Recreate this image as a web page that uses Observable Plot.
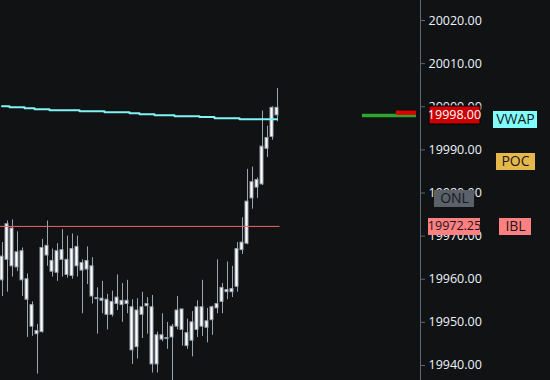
<!DOCTYPE html>
<html><head><meta charset="utf-8">
<script src="https://cdn.jsdelivr.net/npm/d3@7"></script>
<script src="https://cdn.jsdelivr.net/npm/@observablehq/plot@0.6"></script>
<style>html,body{margin:0;padding:0;background:#101214;overflow:hidden}</style>
</head><body><div id="chart"></div>
<script>
// ---- data (price bars, oldest first) ----
const openP  = [19959.75,19964.5,19971.75,19962.75,19966.5,19960.0,19954.0,19948.0,19947.75,19967.75,19964.25,19961.5,19966.75,19964.5,19960.75,19967.5,19963.75,19962.25,19963.0,19955.5,19955.5,19955.25,19951.75,19954.25,19955.0,19954.25,19953.5,19944.25,19951.75,19953.75,19953.5,19940.25,19947.0,19946.25,19946.5,19949.0,19953.0,19947.5,19945.75,19948.25,19953.5,19948.75,19950.5,19953.25,19954.75,19957.5,19957.0,19958.25,19966.75,19968.25,19978.75,19983.0,19982.0,19990.25,19993.0,19999.75];
const highP  = [19968.5,19973.5,19973.75,19971.0,19967.25,19961.25,19954.75,19949.5,19969.25,19973.5,19967.0,19968.25,19971.5,19970.0,19970.5,19970.0,19964.5,19967.5,19965.0,19958.0,19959.5,19956.5,19957.25,19961.0,19959.0,19959.75,19955.25,19955.5,19957.0,19955.75,19956.25,19947.75,19952.0,19950.0,19949.5,19956.0,19953.0,19950.75,19952.5,19955.0,19959.75,19953.25,19953.75,19964.5,19959.0,19964.0,19963.0,19968.5,19974.25,19985.5,19986.0,19983.5,19999.0,19995.5,20000.0,20004.25];
const lowP   = [19956.0,19957.0,19960.5,19961.75,19956.0,19946.5,19946.75,19938.0,19947.5,19963.0,19960.5,19959.5,19960.5,19960.25,19960.0,19960.5,19952.0,19958.75,19954.25,19947.25,19952.0,19948.25,19951.25,19952.75,19950.0,19952.0,19940.25,19941.5,19946.25,19947.25,19938.25,19938.25,19945.5,19943.75,19935.5,19948.25,19944.5,19943.75,19942.0,19946.5,19946.75,19945.25,19947.0,19952.0,19952.0,19955.25,19955.75,19957.0,19965.75,19968.0,19976.25,19978.75,19981.75,19988.25,19992.25,19996.5];
const closeP = [19965.25,19972.75,19963.0,19966.25,19959.75,19955.25,19949.0,19947.25,19967.25,19965.5,19961.75,19966.5,19964.5,19961.0,19967.0,19963.0,19962.0,19964.25,19956.0,19955.5,19955.0,19951.75,19954.75,19955.75,19954.0,19955.0,19943.5,19952.75,19953.5,19954.25,19940.25,19947.0,19946.0,19946.25,19949.0,19952.75,19948.25,19944.5,19950.0,19953.5,19949.0,19950.25,19953.5,19954.25,19958.0,19957.0,19957.75,19967.0,19968.5,19978.0,19982.5,19981.25,19990.75,19992.75,19999.75,19998.0];
const vwapP  = [20000.1,20000.1,19999.9,19999.9,19999.9,19999.65,19999.65,19999.45,19999.45,19999.45,19999.2,19999.2,19999.2,19999.2,19999.2,19999.2,19998.95,19998.95,19998.95,19998.95,19998.95,19998.75,19998.75,19998.75,19998.75,19998.75,19998.5,19998.5,19998.25,19998.25,19998.25,19998.05,19998.05,19998.05,19998.05,19997.8,19997.8,19997.8,19997.8,19997.8,19997.6,19997.6,19997.6,19997.35,19997.35,19997.35,19997.35,19997.35,19997.1,19997.1,19997.1,19997.1,19997.1,19997.1,19997.1,19997.1];

const iblLevel = 19972.25;
const yTicks = [19940,19950,19960,19970,19980,19990,20000,20010,20020];

// bid/ask markers at the last price (bar-slot units)
const bidLevel = [19998.0];  const bidFrom = [73.1]; const bidTo = [83.9];
const askLow = [19998.0];    const askHigh = [19999.0]; const askFrom = [79.9]; const askTo = [83.9];

// right-side tags
const tagLabels = ["19998.00","19972.25","ONL","VWAP","POC","IBL"];
const tagValues = [19998.0, 19972.25, 19978.75, 19997.15, 19987.25, 19972.25];
const tagColumn = ["inner","inner","inner","outer","outer","outer"];

// styles for the tags (same order)
const tagBg     = ["#cc0000","#ff8080","#5a6169","#80ffff","#e6b84c","#ff8080"];
const tagInk    = ["#ffffff","#16181b","#16181b","#16181b","#16181b","#16181b"];
const tagBorder = ["#000000",null,null,null,null,null];
const tagW      = [51,52,40,44,39,32];
const tagH      = [18,17,17,17,17,17];
const tagSize   = [12.5,12.5,14,14,14,14];
const colDx     = {inner: 34, outer: 95};

const bars = openP.map((o, k) => ({i: k + 1, open: o, high: highP[k], low: lowP[k], close: closeP[k], vwap: vwapP[k]}));
const tags = tagLabels.map((t, k) => ({label: t, value: tagValues[k], col: tagColumn[k], bg: tagBg[k], ink: tagInk[k], border: tagBorder[k], w: tagW[k], h: tagH[k], size: tagSize[k]}));
const bid = bidLevel.map((v, k) => ({y: v, x1: bidFrom[k], x2: bidTo[k]}));
const ask = askLow.map((v, k) => ({y1: v, y2: askHigh[k], x1: askFrom[k], x2: askTo[k]}));

const axisColor = "#5d6672";
const W = 550, H = 380, MR = 130;
const xDomain = [0.7, 84.7];

const chart = Plot.plot({
  width: W, height: H,
  marginLeft: 0, marginRight: MR, marginTop: 0, marginBottom: 0,
  style: {background: "#101214", color: "#eef2f8", fontFamily: "'Open Sans', sans-serif", fontSize: "12px"},
  x: {domain: xDomain, axis: null},
  y: {domain: [19936.52, 20024.64], axis: null},
  marks: [
    Plot.ruleX(bars, {x: "i", y1: "low", y2: "high", stroke: "#9aa4b2", strokeWidth: 1, dx: 0.5}),
    Plot.rect(bars, {
      x1: d => d.i - 0.3, x2: d => d.i + 0.3,
      y1: d => Math.min(d.open, d.close) - (d.open === d.close ? 0.12 : 0),
      y2: d => Math.max(d.open, d.close) + (d.open === d.close ? 0.12 : 0),
      fill: "#ffffff", stroke: "#9aa4b2", strokeWidth: 1
    }),
    Plot.ruleY([iblLevel], {x1: xDomain[0], x2: bars.length + 0.6, stroke: "#f26464", strokeWidth: 1}),
    Plot.line(bars, {x: "i", y: "vwap", curve: "step", stroke: "#7ff4f4", strokeWidth: 2}),
    Plot.ruleY(bid, {y: "y", x1: "x1", x2: "x2", stroke: "#2ea52e", strokeWidth: 3.5}),
    Plot.rect(ask, {y1: "y1", y2: "y2", x1: "x1", x2: "x2", fill: "#e00000"}),
    Plot.ruleX([xDomain[1]], {stroke: axisColor}),
    Plot.axisY({anchor: "right", ticks: yTicks, tickFormat: d => d.toFixed(2), tickSize: 4, tickPadding: 4, stroke: axisColor, fill: "#eef2f8", fontSize: 12.5}),
    Plot.text(tags.filter(d => d.col === "inner"), {y: "value", text: "label", frameAnchor: "right", dx: colDx.inner, textAnchor: "middle", fill: d => d.ink, fontSize: d => d.size}),
    Plot.text(tags.filter(d => d.col === "outer"), {y: "value", text: "label", frameAnchor: "right", dx: colDx.outer, textAnchor: "middle", fill: d => d.ink, fontSize: d => d.size})
  ]
});

document.getElementById("chart").append(chart);

// background boxes behind the tags, positioned from the y scale
const yS = chart.scale("y");
const frameRight = W - MR;
const groups = Array.from(chart.querySelectorAll("g")).filter(g =>
  Array.from(g.querySelectorAll(":scope > text")).some(t => tagLabels.includes(t.textContent)));
const firstTagGroup = groups[0];
const boxG = document.createElementNS("http://www.w3.org/2000/svg", "g");
tags.forEach(d => {
  const cy = Math.round(yS.apply(d.value));
  const cx = frameRight + colDx[d.col];
  const r = document.createElementNS("http://www.w3.org/2000/svg", "rect");
  r.setAttribute("x", Math.round(cx - d.w / 2));
  r.setAttribute("y", cy - Math.floor(d.h / 2));
  r.setAttribute("width", d.w);
  r.setAttribute("height", d.h);
  r.setAttribute("fill", d.bg);
  if (d.border) { r.setAttribute("stroke", d.border); r.setAttribute("stroke-width", 1); }
  boxG.appendChild(r);
});
if (firstTagGroup) firstTagGroup.parentNode.insertBefore(boxG, firstTagGroup);
else chart.appendChild(boxG);
</script>
</body></html>
